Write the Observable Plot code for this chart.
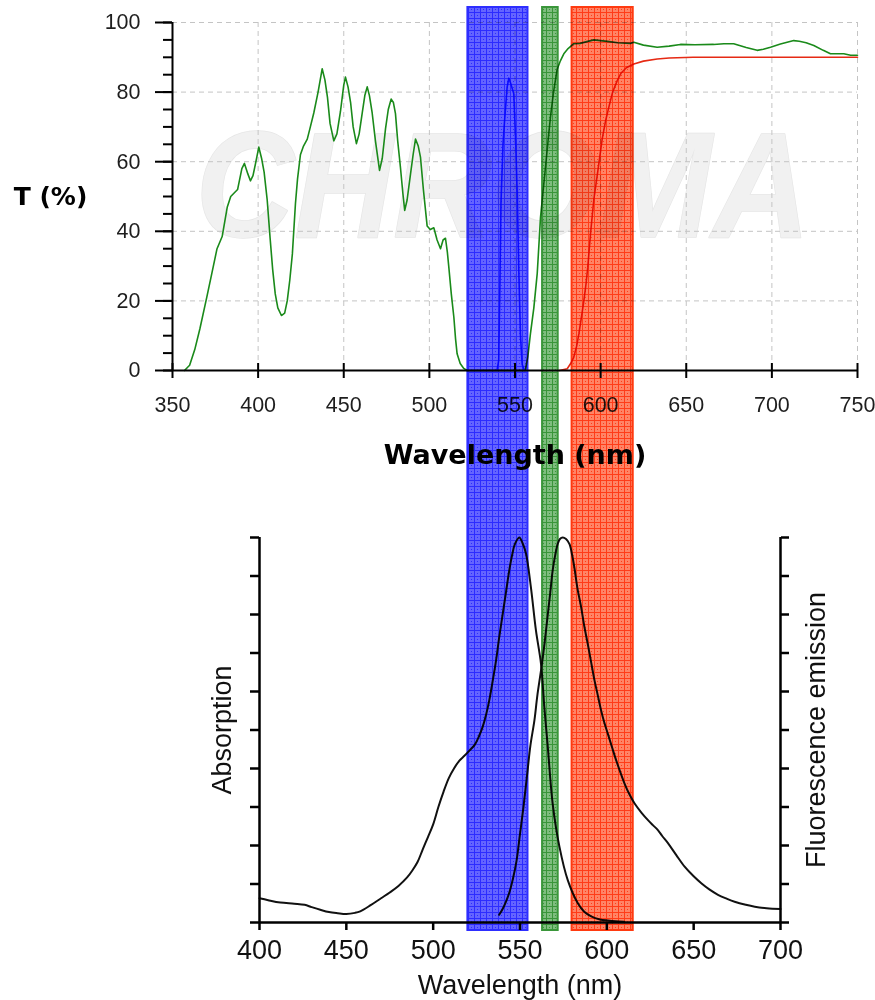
<!DOCTYPE html>
<html><head><meta charset="utf-8">
<script src="https://cdn.jsdelivr.net/npm/d3@7"></script>
<script src="https://cdn.jsdelivr.net/npm/@observablehq/plot@0.6"></script>
<style>
html,body{margin:0;padding:0;background:#fff;}
#wrap{position:relative;width:875px;height:1000px;overflow:hidden;background:#fff;}
#wrap svg{position:absolute;left:0;}
</style></head><body><div id="wrap"></div>
<script>
// ---- Top panel: filter transmission (%) ----
const greenWl = [357,360,363,366,370,373,376,379,382,384,386,388,390.5,392,394,395.5,397,398.5,400.4,402,403.5,405.3,407,408.5,410,411.5,413.6,415.5,417,418.5,420,421.8,423,424.7,426.5,428.7,430.5,432.5,435,437.4,439,440.5,442,444.2,446,448.1,450,451,452.5,454,455.5,457.4,459,460.8,462.3,463.7,465,466.6,468.5,470.9,472.5,474.4,476,477.7,479,480.2,481.5,483.1,484.5,485.6,487,489,490.5,491.9,493.5,494.8,496.5,498.7,500.5,502.6,504.5,506.5,508,509.4,510.5,511.3,512.8,514.3,515.3,516.2,518,520.1,522,556,557.5,559,561,563,564.9,566.5,567.8,569.3,570.7,572.5,574.6,576.5,578.5,581,584.3,588,592,596,600,605,610,617.4,619.4,625,633,640,646.6,655,666,672,677.7,685,691.4,695,699.2,705,712.8,716,720,724.5,730,734.2,738,742,746,750];
const greenT = [0,1.5,6,12,21,28,35,38.5,47,50,51,52,58,59.5,56.5,54.5,56,59.5,64.2,61,57,49,38,29,22,18,15.8,16.5,20,26,33.5,48,55,62,64.5,66.5,70,74,80,86.7,83.5,78.5,71,66,68,74.5,82,84.3,81.5,77,70,65.2,68,74,79,81.5,79,74,66,57.5,61,69.5,75,78,77,73.8,66,58.4,51,46,49,56.5,62,66.5,64.5,61.3,52,41.5,40.5,41,37.5,35,37.5,38,34,30,22,15.3,9,4.8,2,0.6,0,0,4,10.5,18,28,44,52,58.4,66,72.8,80,86.5,89,91,92.5,93.9,94,94.5,95,94.8,94.5,94.2,94,94.3,93.5,92.9,93.2,93.7,93.6,93.7,93.9,93.9,92.8,92,92.3,92.9,93.8,94.8,94.6,94.2,93.4,92,91,91,91,90.6,90.6];
const redWl = [576,580.5,582.5,584.3,586,587.3,589,590.2,591.5,592.5,594.1,596,598,600.9,603,604.8,607,609.7,612,615,619.4,625,633,640,654,750];
const redT = [0,0.5,2,3.8,7,10.5,16,20,25,29.7,39.3,49,56,66.5,72,75.7,80,83.3,85.5,87,88.1,88.9,89.5,89.8,90,90];
const blueWl = [522,539.5,540.5,541.2,541.8,543,543.8,545.4,546.4,547.5,549.3,550.3,551.3,552.2,553.2,554.2,555.5,556];
const blueT = [0,0,3,25,48,65,71,81.4,84,82.5,79.5,67,51,29,10,1.7,0,0];
const topXTicks = [350,400,450,500,550,600,650,700,750];
const topYTicks = [0,20,40,60,80,100];
const topYMinor = [0,5,10,15,20,25,30,35,40,45,50,55,60,65,70,75,80,85,90,95,100];

// ---- Bottom panel: absorption / fluorescence emission (normalised) ----
const absWl = [400,405,412,420,426,430,435,440,445,450,455,458,464,470,475,480,485,488,491,494,497,500,503,506,509,512,515,518,521,524,526.5,528.5,530.5,532.3,534,536.2,538,540,542,543.8,545.5,547,549.6,551.5,553.5,556.3,559.2,562.1,564,566,568.8,572.7,577.5,583.3,587,591,596,600.6,605,610];
const absV = [0.063,0.058,0.052,0.049,0.046,0.04,0.033,0.027,0.024,0.022,0.025,0.029,0.045,0.063,0.078,0.095,0.117,0.135,0.157,0.19,0.222,0.255,0.3,0.34,0.375,0.4,0.42,0.433,0.447,0.462,0.485,0.508,0.54,0.577,0.62,0.68,0.74,0.8,0.86,0.914,0.955,0.982,1.0,0.985,0.957,0.87,0.758,0.672,0.56,0.456,0.309,0.197,0.11,0.05,0.028,0.016,0.008,0.005,0.003,0.002];
const emWl = [538,540,542,544,546,548,550,552,554.4,556,558.3,560,562.1,564,566,567.5,568.8,570.3,571.7,573,574.6,576.5,578.5,580,581.3,583,585.2,587,589,591,592.9,594.8,596.7,598.5,600.6,603,605.4,607.8,610.2,613,616,620,623.7,626.5,629.4,632,635.2,640,644.8,650,654.4,659,664,669,673.6,680,685.2,692,700];
const emV = [0.02,0.035,0.055,0.08,0.115,0.16,0.23,0.3,0.396,0.46,0.525,0.59,0.655,0.72,0.8,0.86,0.914,0.955,0.983,0.996,1.0,0.996,0.983,0.955,0.922,0.87,0.819,0.77,0.724,0.675,0.629,0.59,0.551,0.52,0.49,0.455,0.421,0.39,0.361,0.333,0.309,0.285,0.266,0.253,0.24,0.224,0.206,0.175,0.145,0.12,0.102,0.086,0.072,0.062,0.054,0.046,0.041,0.037,0.035];
const botXTicks = [400,450,500,550,600,650,700];
const botYTicks = [0,0.1,0.2,0.3,0.4,0.5,0.6,0.7,0.8,0.9,1.0];

// ---- Filter bands (nm, on the bottom spectrum's axis) ----
const bandName = ["excitation","dichroic","emission"];
const bandStart = [520,563,580];
const bandEnd = [554.6,572,615.2];

// styles
const bandLight = ["#6464ff","#7fbd7f","#ff8466"];
const bandDark = ["#2c2cff","#3a953a","#ff3c18"];
const bandStroke = ["#2e2eff","#3a963a","#ff3a10"];

const pts = (xs, ys) => xs.map((x, i) => ({x, y: ys[i]}));
const wrap = document.getElementById("wrap");

const topChart = Plot.plot({
  width: 875, height: 480,
  marginLeft: 172, marginRight: 18, marginTop: 22, marginBottom: 110,
  style: {fontFamily: "Liberation Sans", fontSize: "21.5px", color: "#1e1e1e", background: "transparent"},
  x: {domain: [350, 750], label: null},
  y: {domain: [0, 100], label: null},
  marks: [
    Plot.text(["CHROMA"], {text: d => d, frameAnchor: "middle", dx: -12, dy: -8, fontSize: 150, fontStyle: "italic", fontWeight: "bold", fontFamily: "Liberation Sans", fill: "#f1f1f1", stroke: "#e6e6e6", strokeWidth: 1.5, textAnchor: "middle", lineAnchor: "middle"}),
    Plot.gridY(topYTicks.slice(1), {stroke: "#c4c4c4", strokeOpacity: 1, strokeDasharray: "5,4"}),
    Plot.gridX(topXTicks.slice(1), {stroke: "#c4c4c4", strokeOpacity: 1, strokeDasharray: "5,4"}),
    Plot.line(pts(greenWl, greenT), {x: "x", y: "y", stroke: "#1a8a1a", strokeWidth: 1.6}),
    Plot.line(pts(redWl, redT), {x: "x", y: "y", stroke: "#e62a14", strokeWidth: 1.6}),
    Plot.line(pts(blueWl, blueT), {x: "x", y: "y", stroke: "#1f1fff", strokeWidth: 1.6}),
    Plot.ruleX([350], {stroke: "#000", strokeWidth: 2}),
    Plot.ruleY([0], {stroke: "#000", strokeWidth: 2}),
    Plot.axisY(topYTicks, {tickSize: 17, tickPadding: 15, strokeWidth: 2, stroke: "#000", fontSize: 21.5, label: null}),
    Plot.axisY(topYMinor, {tickSize: 9, strokeWidth: 2, stroke: "#000", fill: "none", label: null}),
    Plot.axisX(topXTicks, {tickSize: 15, dy: -7, strokeWidth: 2, stroke: "#000", fill: "none", label: null}),
    Plot.axisX(topXTicks, {tickSize: 0, tickPadding: 26, fontSize: 21.5, label: null}),
    Plot.text(["T (%)"], {text: d => d, frameAnchor: "left", dx: -122, fontSize: 25, fontWeight: "bold", fontFamily: "DejaVu Sans", fill: "#000", textAnchor: "middle", lineAnchor: "middle"}),
    Plot.text(["Wavelength (nm)"], {text: d => d, frameAnchor: "bottom", dy: 85, fontSize: 27, fontWeight: "bold", fontFamily: "DejaVu Sans", fill: "#000", textAnchor: "middle", lineAnchor: "middle"})
  ]
});
topChart.style.top = "0px";
d3.select(topChart).selectAll("text").filter(function(){ return this.textContent === "CHROMA"; })
  .attr("textLength", 615).attr("lengthAdjust", "spacingAndGlyphs");
wrap.appendChild(topChart);

const botChart = Plot.plot({
  width: 875, height: 520,
  marginLeft: 259, marginRight: 95, marginTop: 57, marginBottom: 78,
  style: {fontFamily: "Liberation Sans", fontSize: "26px", color: "#111", background: "transparent"},
  x: {domain: [400, 700], label: null},
  y: {domain: [0, 1], label: null},
  marks: [
    Plot.line(pts(absWl, absV), {x: "x", y: "y", stroke: "#111", strokeWidth: 2, curve: "catmull-rom"}),
    Plot.line(pts(emWl, emV), {x: "x", y: "y", stroke: "#111", strokeWidth: 2, curve: "catmull-rom"}),
    Plot.ruleX([400, 700], {stroke: "#000", strokeWidth: 2.5}),
    Plot.ruleY([0], {stroke: "#000", strokeWidth: 2.5}),
    Plot.axisY(botYTicks, {anchor: "left", tickSize: 9, strokeWidth: 2.5, stroke: "#000", fill: "none", label: null}),
    Plot.axisY(botYTicks, {anchor: "right", tickSize: 8, strokeWidth: 2.5, stroke: "#000", fill: "none", label: null}),
    Plot.axisX(botXTicks, {tickSize: 8, tickPadding: 9, strokeWidth: 2.5, stroke: "#000", fontSize: 27, label: null}),
    Plot.text(["Absorption"], {text: d => d, frameAnchor: "left", dx: -37, rotate: -90, fontSize: 27, fill: "#111", textAnchor: "middle", lineAnchor: "middle"}),
    Plot.text(["Fluorescence emission"], {text: d => d, frameAnchor: "right", dx: 36, rotate: -90, fontSize: 27, fill: "#111", textAnchor: "middle", lineAnchor: "middle"}),
    Plot.text(["Wavelength (nm)"], {text: d => d, frameAnchor: "bottom", dy: 63, fontSize: 27, fill: "#111", textAnchor: "middle", lineAnchor: "middle"})
  ]
});
botChart.style.top = "480px";
wrap.appendChild(botChart);

// ---- band overlay spanning both panels ----
const bands = bandName.map((name, i) => ({name, lo: bandStart[i], hi: bandEnd[i], i}));
const overlay = Plot.plot({
  width: 875, height: 1000,
  marginLeft: 259, marginRight: 95, marginTop: 7, marginBottom: 70,
  style: {background: "transparent"},
  x: {domain: [400, 700], axis: null, label: null},
  marks: bands.map(b => Plot.rect([b], {x1: "lo", x2: "hi", fill: `url(#band-pat-${b.i})`, stroke: bandStroke[b.i], strokeWidth: 2}))
});
overlay.style.top = "0px";
overlay.style.mixBlendMode = "multiply";
overlay.style.pointerEvents = "none";
const defs = d3.select(overlay).insert("defs", ":first-child");
bands.forEach(b => {
  const p = defs.append("pattern").attr("id", `band-pat-${b.i}`)
    .attr("patternUnits", "userSpaceOnUse").attr("width", 6).attr("height", 6);
  p.append("rect").attr("width", 6).attr("height", 6).attr("fill", bandLight[b.i]);
  p.append("path").attr("d", "M0 0.5H6M0.5 0V6").attr("stroke", bandDark[b.i]).attr("stroke-width", 1);
  p.append("rect").attr("x", 3).attr("y", 3).attr("width", 1).attr("height", 1).attr("fill", bandDark[b.i]);
});
wrap.appendChild(overlay);
</script>
</body></html>
